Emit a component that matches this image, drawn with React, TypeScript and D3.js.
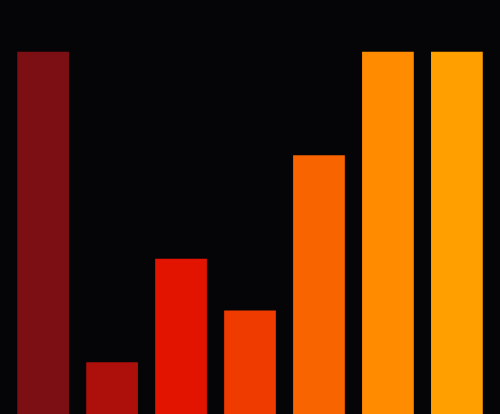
import React from 'react';
import * as d3 from 'd3';

const categories = ['A', 'B', 'C', 'D', 'E', 'F', 'G'];
const values = [7, 1, 3, 2, 5, 7, 7];
const colors = ['#7b0f14', '#ad100a', '#e21400', '#ef3a00', '#f86400', '#ff8c00', '#ffa000'];

const width = 500;
const height = 414;

export default function App() {
  if (typeof document !== 'undefined') document.body.style.margin = '0';

  const x = d3.scaleBand<string>()
    .domain(categories)
    .range([0, width])
    .paddingInner(0.25)
    .paddingOuter(0.25);

  const y = d3.scaleLinear()
    .domain([0, 8])
    .range([height, 0]);

  return (
    <svg width={width} height={height} style={{ display: 'block', background: '#050407' }}>
      {categories.map((c, i) => (
        <rect
          key={c}
          x={x(c)}
          y={y(values[i])}
          width={x.bandwidth()}
          height={height - y(values[i])}
          fill={colors[i]}
        />
      ))}
    </svg>
  );
}
